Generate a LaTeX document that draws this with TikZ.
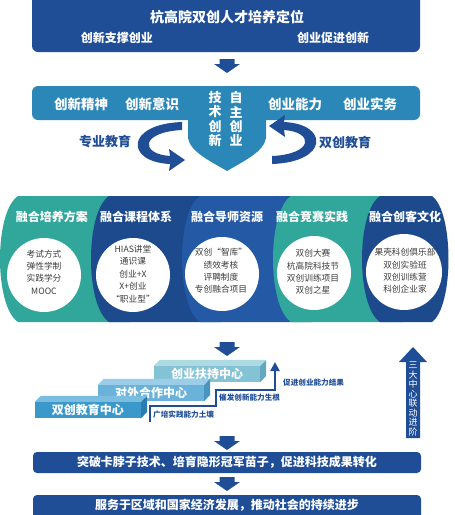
\documentclass[tikz,border=0pt]{standalone}
\usepackage{fontspec}
\setmainfont{Noto Sans CJK SC}
\usetikzlibrary{arrows.meta}
\definecolor{dkblue}{HTML}{1F4E96}
\definecolor{midblue}{HTML}{2B87B7}
\definecolor{bandteal}{HTML}{30A79A}
\definecolor{bandnavy}{HTML}{1C4A8D}
\definecolor{bandblue}{HTML}{2459A5}
\definecolor{txtgray}{HTML}{3C3C3C}
\definecolor{aFront}{HTML}{3B98CB}
\definecolor{aTop}{HTML}{7BBDE0}
\definecolor{aSide}{HTML}{2B7DB0}
\definecolor{bFront}{HTML}{6AB2DA}
\definecolor{bTop}{HTML}{9BCDE8}
\definecolor{bSide}{HTML}{4A94C0}
\definecolor{cFront}{HTML}{84C3D6}
\definecolor{cTop}{HTML}{AEDAE4}
\definecolor{cSide}{HTML}{62A8BE}
\tikzset{
  wtxt/.style={text=white, inner sep=0pt, font=\bfseries\fontsize{#1}{#1}\selectfont},
  vtxt/.style={text=white, inner sep=0pt, align=center, font=\bfseries\fontsize{13}{14.3}\selectfont},
  btxt/.style={text=dkblue, inner sep=0pt, font=\bfseries\fontsize{#1}{#1}\selectfont},
  ctxt/.style={text=txtgray, inner sep=0pt, align=center, font=\fontsize{8.7}{12.4}\selectfont},
  circ/.style={circle, fill=white, minimum size=74pt, inner sep=0pt},
  stepfront/.style={rectangle, minimum width=106pt, minimum height=16pt, inner sep=0pt, text=white, font=\bfseries\fontsize{12}{12}\selectfont},
  downarr/.pic={\fill[dkblue] (-7.5,0) -- (7.5,0) -- (7.5,5) -- (13,5) -- (0,14) -- (-13,5) -- (-7.5,5) -- cycle;}
}
\begin{document}
\begin{tikzpicture}[x=1pt,y=-1pt]
\useasboundingbox (0,0) rectangle (455,515);
% top box
\fill[dkblue, rounded corners=6] (32,-8) rectangle (420,52);
\node[wtxt=14] (title) at (227,17) {杭高院双创人才培养定位};
\node[wtxt=12] (sub1) at (117,38) {创新支撑创业};
\node[wtxt=12] (sub2) at (333,38) {创业促进创新};
\pic at (227,59) {downarr};
% second band + shield
\fill[midblue, rounded corners=6] (32,86) rectangle (420,120);
\fill[midblue] (188,115) -- (188,138) .. controls (190,152) and (212,162) .. (227,171) .. controls (242,162) and (264,152) .. (266,138) -- (266,115) -- cycle;
\node[wtxt=13.5] (q1) at (81,104) {创新精神};
\node[wtxt=13.5] (q2) at (152,104) {创新意识};
\node[wtxt=13.5] (q3) at (295,104) {创业能力};
\node[wtxt=13.5] (q4) at (370,104) {创业实务};
\node[vtxt] (tech) at (215,119) {技\\术\\创\\新};
\node[vtxt] (self) at (236,119) {自\\主\\创\\业};
% curved arrows
\fill[dkblue] (182,122) .. controls (125,124) and (125,162) .. (170,164) -- (169,171) -- (185,160) -- (169,149) -- (170,156) .. controls (140,154) and (140,132) .. (182,130) -- cycle;
\fill[dkblue, rotate around={180:(227,143)}] (182,122) .. controls (125,124) and (125,162) .. (170,164) -- (169,171) -- (185,160) -- (169,149) -- (170,156) .. controls (140,154) and (140,132) .. (182,130) -- cycle;
\node[btxt=13] (zy) at (105,142) {专业教育};
\node[btxt=13] (sc) at (345,142) {双创教育};
% five bands
\foreach \m/\c in {0/bandteal, 91/bandnavy, 182/bandblue, 273/bandteal}{
  \fill[\c] (\m+18,196) .. controls (\m-6,212) and (\m-6,306) .. (\m+18,322) -- (\m+130,322) -- (\m+130,196) -- cycle;
}
\fill[bandnavy] (380,196) .. controls (356,212) and (356,306) .. (380,322) -- (432,322) .. controls (454,306) and (454,212) .. (432,196) -- cycle;
\node[wtxt=12] (h1) at (52,217) {融合培养方案};
\node[wtxt=12] (h2) at (136,217) {融合课程体系};
\node[wtxt=12] (h3) at (227,217) {融合导师资源};
\node[wtxt=12] (h4) at (312,217) {融合竞赛实践};
\node[wtxt=12] (h5) at (405,217) {融合创客文化};
\node[circ] (c1) at (44,275) {};
\node[circ] (c2) at (133,275) {};
\node[circ] (c3) at (222,274) {};
\node[circ] (c4) at (314,273) {};
\node[circ, minimum size=76pt] (c5) at (404,272) {};
\node[ctxt] (t1) at (44,272) {考试方式\\弹性学制\\实践学分\\MOOC};
\node[ctxt] (t2) at (133,274) {HIAS讲堂\\通识课\\创业+X\\X+创业\\“职业型”};
\node[ctxt] (t3) at (221,271) {双创“智库”\\绩效考核\\评聘制度\\专创融合项目};
\node[ctxt] (t4) at (313,272) {双创大赛\\杭高院科技节\\双创训练项目\\双创之星};
\node[ctxt] (t5) at (405,271) {果壳科创俱乐部\\双创实验班\\双创训练营\\科创企业家};
\pic at (227,342) {downarr};
% steps
\node[stepfront, fill=cFront] (sC) at (207,374) {创业扶持中心};
\fill[cTop] (sC.north west) -- ++(6,-6) -- ++(106,0) -- (sC.north east) -- cycle;
\fill[cSide] (sC.north east) -- ++(6,-6) -- ++(0,16) -- (sC.south east) -- cycle;
\node[stepfront, fill=bFront] (sB) at (151,393) {对外合作中心};
\fill[bTop] (sB.north west) -- ++(6,-6) -- ++(106,0) -- (sB.north east) -- cycle;
\fill[bSide] (sB.north east) -- ++(6,-6) -- ++(0,16) -- (sB.south east) -- cycle;
\node[stepfront, fill=aFront] (sA) at (88,410) {双创教育中心};
\fill[aTop] (sA.north west) -- ++(6,-6) -- ++(106,0) -- (sA.north east) -- cycle;
\fill[aSide] (sA.north east) -- ++(6,-6) -- ++(0,16) -- (sA.south east) -- cycle;
\coordinate (p0) at (150,422);
\coordinate (p1) at (150,406);
\coordinate (p2) at (216,406);
\coordinate (p3) at (216,390);
\coordinate (p4) at (275,390);
\coordinate (p5) at (275,362);
\draw[dkblue, line width=2.4pt, -{Triangle[width=9pt,length=9pt]}] (p0) -- (p1) -- (p2) -- (p3) -- (p4) -- (p5);
\node[btxt=7.6, anchor=west] (l1) at (153,415) {广培实践能力土壤};
\node[btxt=7.6, anchor=west] (l2) at (219,398) {催发创新能力生根};
\node[btxt=7.6, anchor=west] (l3) at (283,383) {促进创业能力结果};
% right vertical arrow
\fill[dkblue] (406,438) -- (406,362) -- (399,362) -- (413,347) -- (427,362) -- (420,362) -- (420,438) -- cycle;
\node[text=white, inner sep=0pt, align=center, font=\fontsize{9}{9.5}\selectfont] (sd) at (413,399) {三\\大\\中\\心\\联\\动\\进\\阶};
\pic at (227,436) {downarr};
% bottom boxes
\fill[dkblue, rounded corners=4] (33,452) rectangle (421,473);
\node[wtxt=12] (b1) at (227,462.5) {突破卡脖子技术、培育隐形冠军苗子，促进科技成果转化};
\pic at (227,477) {downarr};
\fill[dkblue, rounded corners=4] (33,495) rectangle (421,522);
\node[wtxt=12] (b2) at (227,505) {服务于区域和国家经济发展，推动社会的持续进步};
\end{tikzpicture}
\end{document}
